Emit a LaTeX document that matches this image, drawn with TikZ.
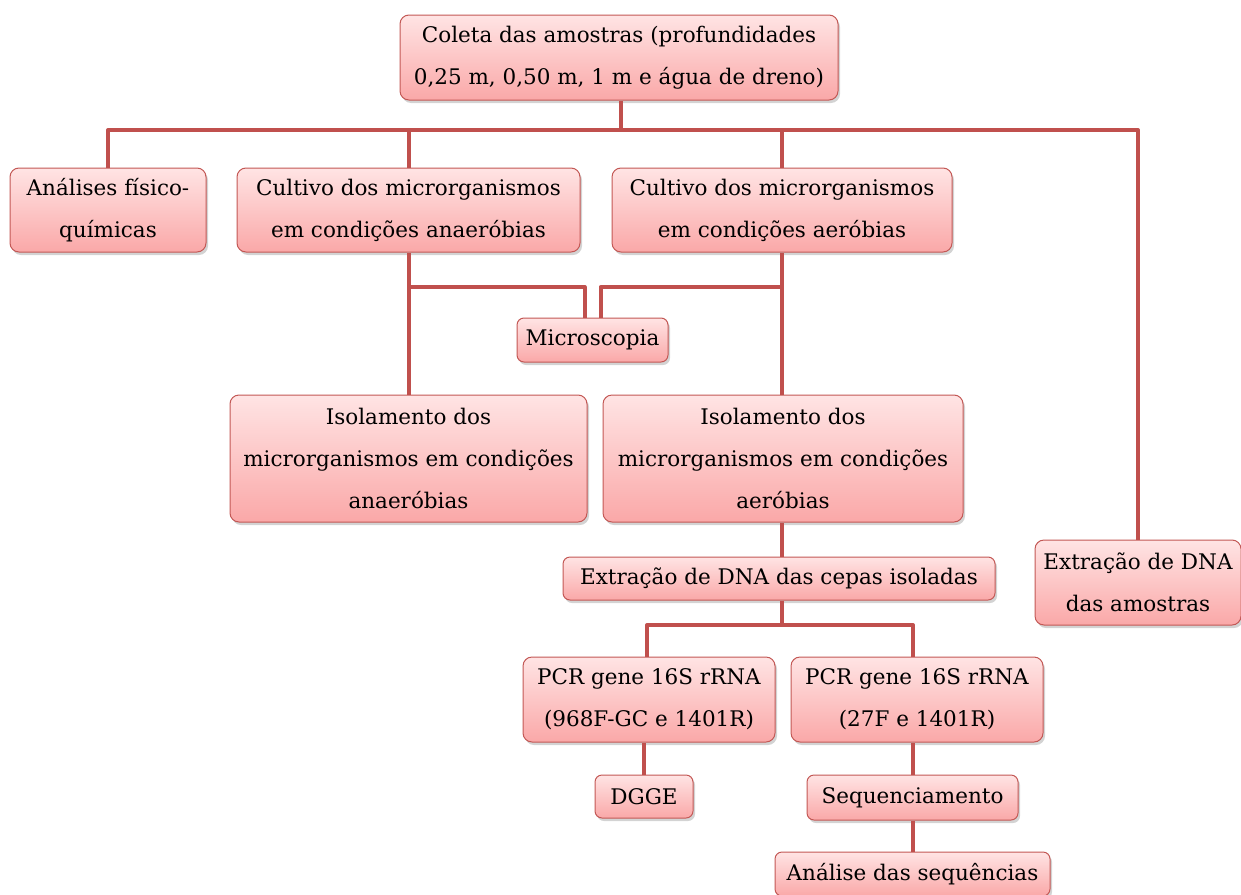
\documentclass[tikz,border=0pt]{standalone}
\usepackage{fontspec}
\setmainfont{DejaVu Serif}
\usetikzlibrary{shadows}
\definecolor{lineRed}{RGB}{192,80,77}
\definecolor{boxTop}{RGB}{255,228,228}
\definecolor{boxBot}{RGB}{250,168,168}
\definecolor{boxDraw}{RGB}{195,88,85}
\tikzset{
  box/.style={draw=boxDraw, line width=1pt, rounded corners=9pt,
    top color=boxTop, bottom color=boxBot,
    drop shadow={opacity=0.35, shadow xshift=2pt, shadow yshift=-3pt},
    align=center, inner sep=2pt,
    font=\fontsize{21.5}{42}\selectfont},
  conn/.style={draw=lineRed, line width=4pt, line join=round}
}
\begin{document}
\begin{tikzpicture}[x=1pt,y=-1pt]
\useasboundingbox (0,0) rectangle (1241,894);
% nodes
\node[box, minimum width=438pt, minimum height=85pt] (top) at (619,57.5) {Coleta das amostras (profundidades\\0,25 m, 0,50 m, 1 m e água de dreno)};
\node[box, minimum width=196pt, minimum height=84pt] (anal) at (108,210) {Análises físico-\\químicas};
\node[box, minimum width=343pt, minimum height=84pt] (canaer) at (408.5,210) {Cultivo dos microrganismos\\em condições anaeróbias};
\node[box, minimum width=340pt, minimum height=84pt] (caer) at (782,210) {Cultivo dos microrganismos\\em condições aeróbias};
\node[box, minimum width=151pt, minimum height=44pt, rounded corners=7pt] (micro) at (592.5,340) {Microscopia};
\node[box, minimum width=357pt, minimum height=127pt] (ianaer) at (408.5,458.5) {Isolamento dos\\microrganismos em condições\\anaeróbias};
\node[box, minimum width=360pt, minimum height=127pt] (iaer) at (783,458.5) {Isolamento dos\\microrganismos em condições\\aeróbias};
\node[box, minimum width=432pt, minimum height=43pt, rounded corners=7pt] (ext) at (779,578.5) {Extração de DNA das cepas isoladas};
\node[box, minimum width=206pt, minimum height=85pt] (dnaam) at (1138,582.5) {Extração de DNA\\das amostras};
\node[box, minimum width=252pt, minimum height=85pt] (pcra) at (649,699.5) {PCR gene 16S rRNA\\(968F-GC e 1401R)};
\node[box, minimum width=252pt, minimum height=85pt] (pcrb) at (917,699.5) {PCR gene 16S rRNA\\(27F e 1401R)};
\node[box, minimum width=98pt, minimum height=43pt, rounded corners=7pt] (dgge) at (644,796.5) {DGGE};
\node[box, minimum width=211pt, minimum height=45pt, rounded corners=7pt] (seq) at (912.5,797.5) {Sequenciamento};
\node[box, minimum width=275pt, minimum height=44pt, rounded corners=7pt] (aseq) at (912.5,874) {Análise das sequências};
% connectors
\coordinate (bus) at (621,130);
\coordinate (mbus) at (0,287);
\coordinate (pbus) at (0,625);
\draw[conn] (top.south -| bus) -- (bus);
\draw[conn] (anal.north) -- (anal.north |- bus) -- (dnaam.north |- bus) -- (dnaam.north);
\draw[conn] (canaer.north) -- (canaer.north |- bus);
\draw[conn] (caer.north) -- (caer.north |- bus);
\draw[conn] (canaer.south) -- (ianaer.north);
\draw[conn] (caer.south) -- (caer.south |- iaer.north);
\draw[conn] (canaer.south |- mbus) -- ([xshift=-8pt]micro.north |- mbus) -- ([xshift=-8pt]micro.north);
\draw[conn] (caer.south |- mbus) -- ([xshift=8pt]micro.north |- mbus) -- ([xshift=8pt]micro.north);
\draw[conn] (iaer.south -| caer.south) -- (ext.north -| caer.south);
\draw[conn] (ext.south -| caer.south) -- (caer.south |- pbus) -- ([xshift=-2pt]pcra.north |- pbus) -- ([xshift=-2pt]pcra.north);
\draw[conn] (caer.south |- pbus) -- ([xshift=-4pt]pcrb.north |- pbus) -- ([xshift=-4pt]pcrb.north);
\draw[conn] (dgge.north) -- (dgge.north |- pcra.south);
\draw[conn] (seq.north) -- (seq.north |- pcrb.south);
\draw[conn] (seq.south) -- (aseq.north);
\end{tikzpicture}
\end{document}
